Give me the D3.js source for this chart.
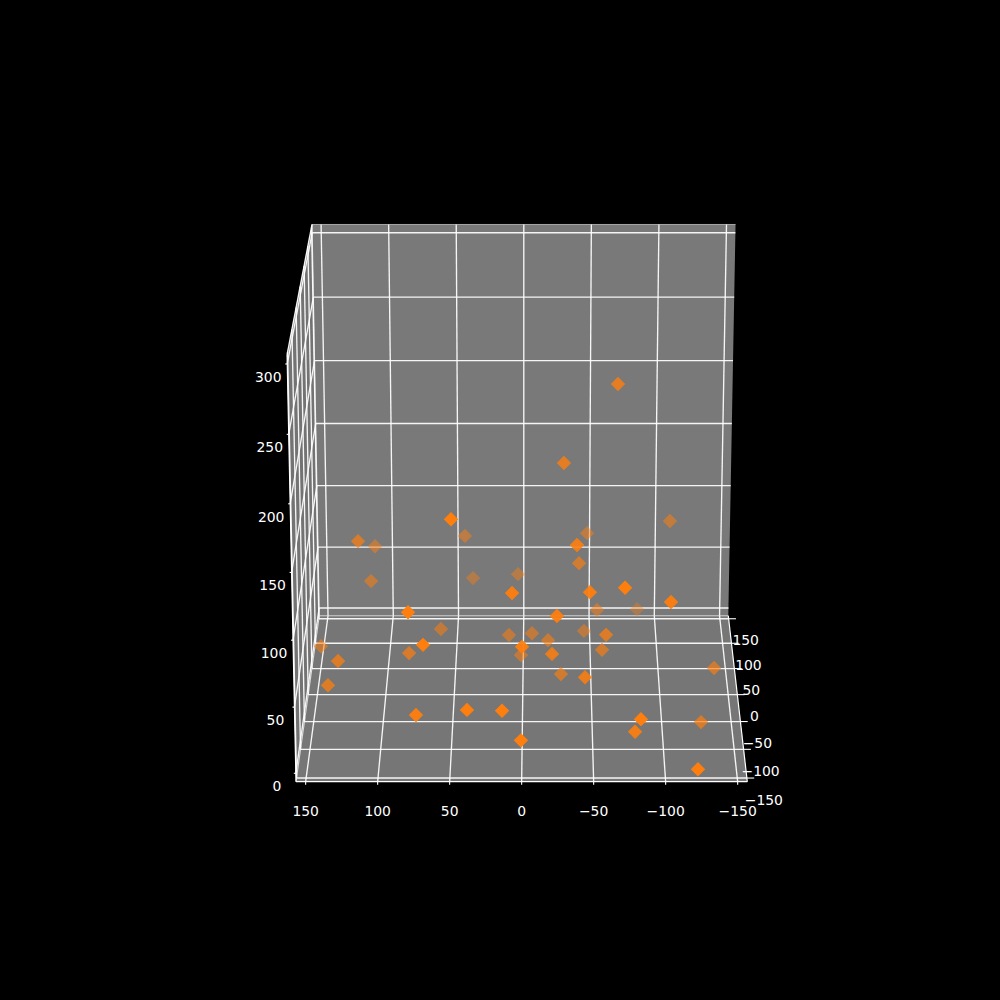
<!DOCTYPE html>
<html><head><meta charset="utf-8"><style>html,body{margin:0;background:#000}svg{display:block}text{font-family:"DejaVu Sans";font-size:13.9px;fill:#fff;text-anchor:middle;dominant-baseline:central}</style>
<script src="https://cdn.jsdelivr.net/npm/d3@7"></script></head><body><script>
const xValues=[-17,-28,-105,65,-5,63,41,65,-74,50,9,76,86,-98,-98,-114,-99,54,105,-101,-118,34,31,33,33,51,-35,15,-3,-122,-21,-105,30,-72,-39,-6,-7,-76,-43,-115,-131,-131,-133,-31,-100,-136,-140];
const yValues=[-67.3,-29.3,49.1,42.9,118.4,109.2,111.5,-47,-38.4,-107.5,-40.7,3.9,37.5,7,-47.4,-71.5,-104,-54.6,-85.4,-24.4,79,60.3,148.5,10.3,-6.6,-45,-59.9,-18.4,-57.6,68.7,82,0,1.5,-21.1,132.4,-139.1,-27.8,-44.5,139.7,74.3,38.2,13.8,-83,-129.2,-79.8,0.6,-123];
const zValues=[239.3,183.8,169.8,93.5,115.8,86.1,67,95.7,138.9,110.9,93.4,58.9,51.9,112,112.7,122.2,105.7,39,19.3,95.9,105.5,31.8,19.3,27.4,28.8,23.4,55,30.6,30.3,82.6,35.1,74.2,12.6,55.3,36.3,17.2,12.8,39,19,26.5,37.2,36.5,31,-15,7.2,16.2,-4.1];
const xTicks=[-150,-100,-50,0,50,100,150], yTicks=[-150,-100,-50,0,50,100,150], zTicks=[0,50,100,150,200,250,300];
const xLim=[-156.25,156.25], yLim=[156.7,-156.7], zLim=[-6.4,306.4];

const tS=d3.scaleLinear().domain(xLim).range([0,1]);
const sS=d3.scaleLinear().domain(yLim).range([0,1]);
const hS=d3.scaleLinear().domain(zLim).range([0,1]);
// homogeneous camera fitted to the cube
function project(x,y,z){
  const t=tS(x),s=sS(y),h=hS(z),w=1+.1034*t-.0378*h;
  return [(521.65+56.3*t-19.8*h+451.3*(s-.5))/w,(781.7-102.3*t-440.2*h)/w];
}
const depth=(x,z)=>.966*tS(x)-.194*hS(z);
const alpha=d3.scaleLinear().domain([.05,.85]).range([1,.3]).clamp(true);

const svg=d3.select("body").append("svg").attr("width",1000).attr("height",1000);
const line=d3.line();
const [x0,x1]=xLim,[y0,y1]=yLim,[z0,z1]=zLim;
const pane=(pts,fill)=>svg.append("path").attr("d",line(pts.map(p=>project(...p)))+"Z").attr("fill",fill);
pane([[x1,y0,z0],[x1,y1,z0],[x1,y1,z1],[x1,y0,z1]],"#797979");
pane([[x0,y0,z0],[x1,y0,z0],[x1,y0,z1],[x0,y0,z1]],"#737373");
pane([[x0,y0,z0],[x0,y1,z0],[x1,y1,z0],[x1,y0,z0]],"#767676");

const seg=(a,b,sw=1.35,op=.93)=>svg.append("path").attr("d",line([project(...a),project(...b)])).attr("fill","none").attr("stroke","#fff").attr("stroke-width",sw).attr("stroke-opacity",op);
// pane edges
seg([x1,y0,z1],[x1,y1,z1],1,.55);
seg([x1,y0,z0],[x1,y0,z1],1.1,.8);
seg([x0,y0,z1],[x1,y0,z1],1.4,.95);
seg([x1,y0,z0],[x1,y1,z0],1.1,.75);
seg([x0,y0,z0],[x1,y0,z0],1.1,.8);
zTicks.forEach(z=>{seg([x1,y0,z],[x1,y1,z]);seg([x0,y0,z],[x1,y0,z]);});
yTicks.forEach(y=>{seg([x1,y,z0],[x1,y,z1]);seg([x0,y,z0],[x1,y,z0]);});
xTicks.forEach(x=>{seg([x,y0,z0],[x,y0,z1]);seg([x,y0,z0],[x,y1,z0]);});

// axis lines
seg([x0,y0,z0],[x0,y1,z0],1.2,1);
seg([x0,y1,z0],[x1,y1,z0],1.2,1);
seg([x0,y0,z0],[x0,y0,z1],1.2,1);

const tick=(p,dx,dy)=>svg.append("path").attr("d",line([p,[p[0]+dx,p[1]+dy]])).attr("stroke","#fff").attr("stroke-width",1.1);
const fmt=v=>String(v).replace("-","\u2212");
yTicks.forEach(y=>{const p=project(x0,y,z0);tick(p,0,3);svg.append("text").attr("x",p[0]).attr("y",811).text(fmt(y));});
xTicks.forEach(x=>{const p=project(x,y1,z0);tick(p,7.3,0);svg.append("text").attr("x",p[0]+17).attr("y",p[1]+21.5).text(fmt(x));});
zTicks.forEach(z=>{const p=project(x0,y0,z);tick(p,-2,0);svg.append("text").attr("x",p[0]-19).attr("y",p[1]+12.9).text(fmt(z));});

const sym=d3.symbol().type(d3.symbolSquare).size(84);
const pts=d3.range(xValues.length).map(i=>({x:xValues[i],y:yValues[i],z:zValues[i],d:depth(xValues[i],zValues[i])})).sort((a,b)=>b.d-a.d);
svg.append("g").selectAll("path").data(pts).join("path").attr("d",sym)
 .attr("transform",d=>{const p=project(d.x,d.y,d.z);return `translate(${p[0]},${p[1]}) rotate(45)`;})
 .attr("fill","#ff7f0e").attr("stroke","#ff7f0e").attr("stroke-width",1).attr("opacity",d=>alpha(d.d));
</script></body></html>
